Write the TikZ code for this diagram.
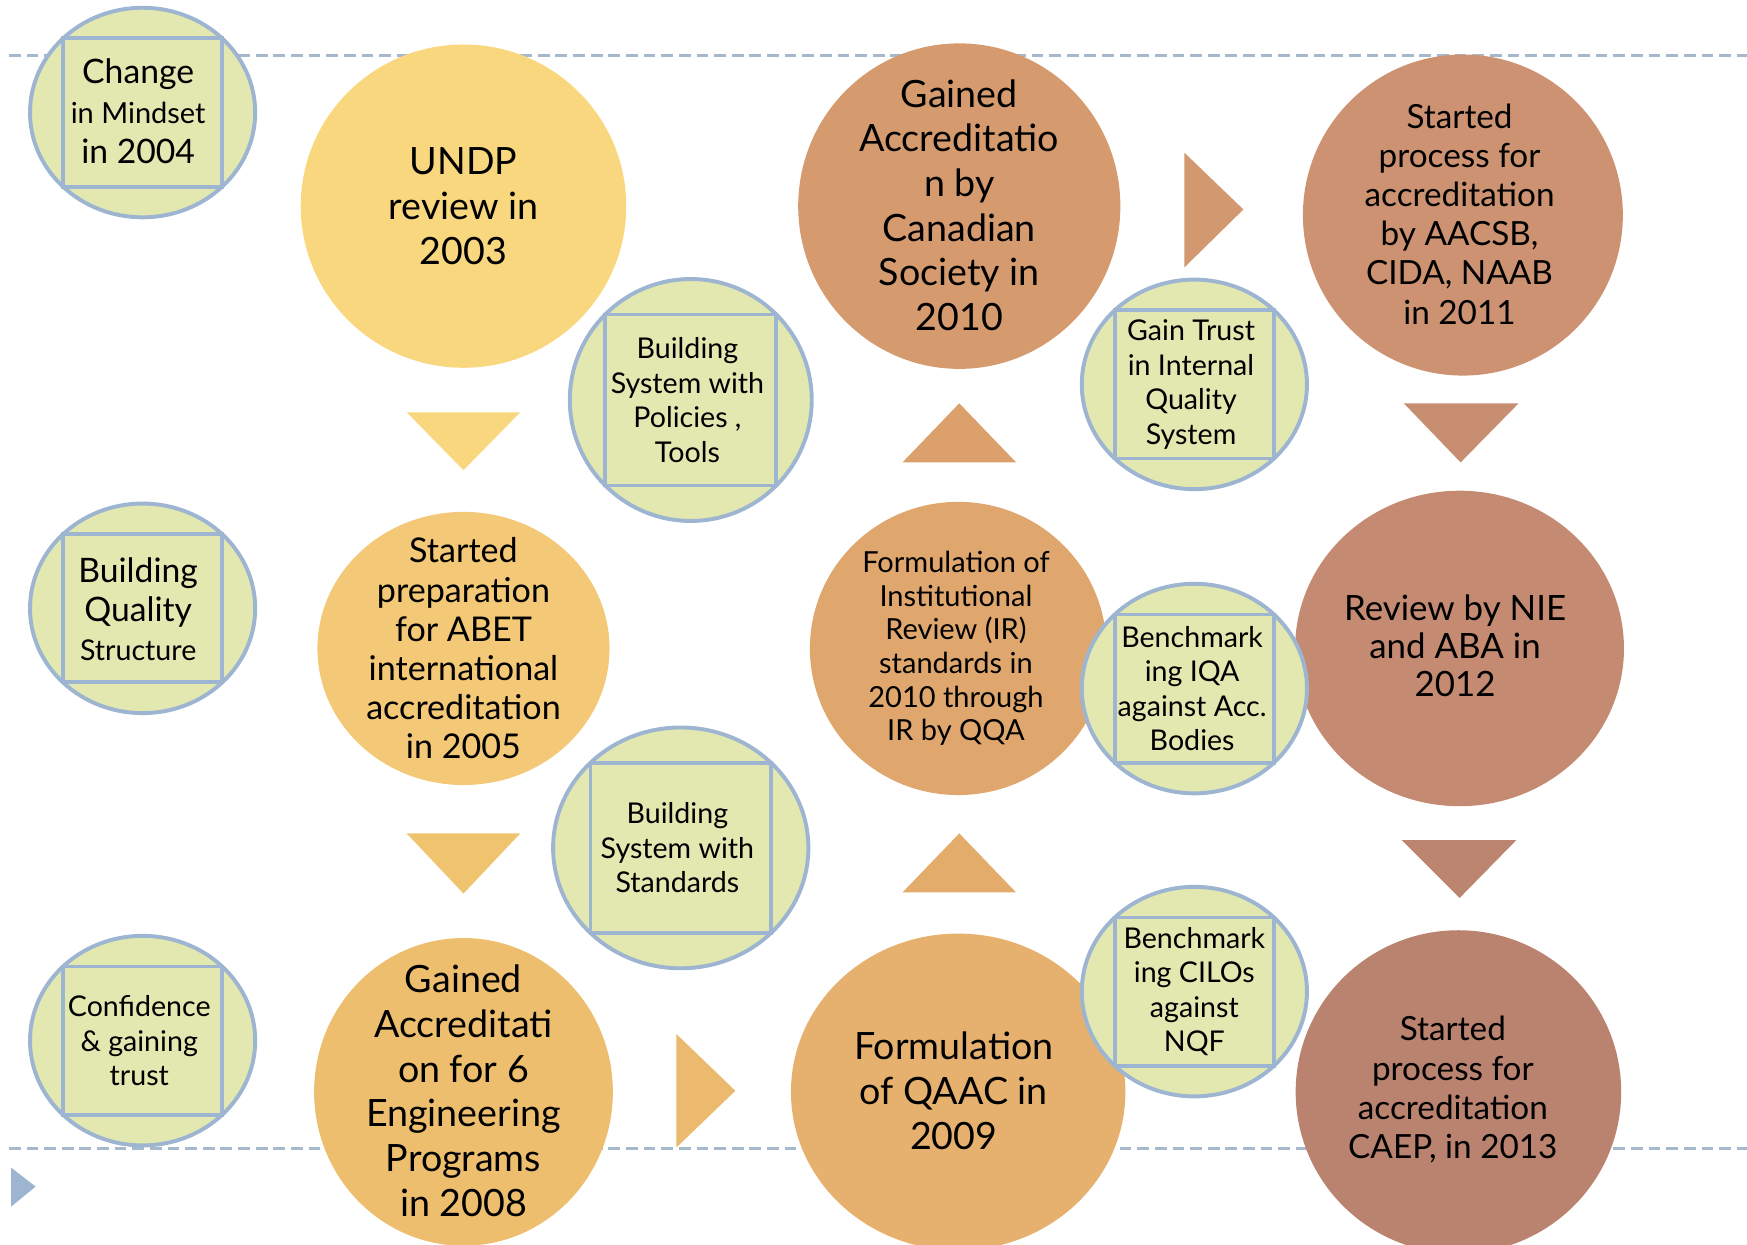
\documentclass[tikz,border=0pt]{standalone}
\usepackage{fontspec}
\setmainfont{Lato}
\usetikzlibrary{shapes.geometric}
\definecolor{cundp}{HTML}{F9D77E}
\definecolor{cabet}{HTML}{F3C877}
\definecolor{csix}{HTML}{EDBE6E}
\definecolor{cqaac}{HTML}{E6B16F}
\definecolor{cir}{HTML}{DFA76D}
\definecolor{ccan}{HTML}{D59B6F}
\definecolor{caacsb}{HTML}{CD9271}
\definecolor{cnie}{HTML}{C48B72}
\definecolor{ccaep}{HTML}{B9836F}
\definecolor{tabet}{HTML}{F0C46F}
\definecolor{tsix}{HTML}{EBBA6E}
\definecolor{tqaac}{HTML}{E3AC6B}
\definecolor{tir}{HTML}{DBA06C}
\definecolor{tcan}{HTML}{D29870}
\definecolor{taacsb}{HTML}{C88E71}
\definecolor{tnie}{HTML}{BC8570}
\definecolor{gfill}{HTML}{E2E8B0}
\definecolor{gblue}{HTML}{9DB5D0}
\definecolor{dblue}{HTML}{A5B8CC}
\newcommand\fsz[2]{\fontsize{#1}{#2}\selectfont}
\begin{document}
\begin{tikzpicture}[x=0.01cm,y=-0.01cm,
  bigc/.style={ellipse, inner sep=0pt, outer sep=0pt, draw=none},
  gc/.style={ellipse, inner sep=0pt, outer sep=0pt, fill=gfill, draw=gblue, line width=1pt, minimum width=2.02cm, minimum height=1.88cm},
  inbox/.style={draw=gblue, line width=1pt},
  txt/.style={align=center, inner sep=0pt, text=black},
  bigtxt/.style={txt, font=\fsz{9.6pt}{11.4pt}},
  midtxt/.style={txt, font=\fsz{8.5pt}{10pt}},
  smtxt/.style={txt, font=\fsz{7.3pt}{8.8pt}},
  dline/.style={draw=dblue, line width=0.7pt, dash pattern=on 3pt off 1.5pt}
]
\path[use as bounding box] (0,0) rectangle (1568,1117);
\begin{scope}
\clip (0,0) rectangle (1568,1117);
% dashed guide lines
\coordinate (t1) at (8,50); \coordinate (t2) at (1568,50);
\coordinate (b1) at (8,1031); \coordinate (b2) at (1568,1031);
\draw[dline] (t1) -- (t2);
\draw[dline] (b1) -- (b2);
\fill[gblue] (10,1048) -- (32,1065) -- (10,1083) -- cycle;

% big circles
\node[bigc, fill=cundp, minimum width=2.92cm, minimum height=2.90cm] (undp) at (416,185) {};
\node[bigtxt] (undpT) at (undp) {UNDP\\review in\\2003};
\node[bigc, fill=cabet, minimum width=2.62cm, minimum height=2.45cm] (abet) at (416,582) {};
\node[txt, font=\fsz{8.7pt}{10pt}] (abetT) at (abet) {Started\\preparation\\for ABET\\international\\accreditation\\in 2005};
\node[bigc, fill=csix, minimum width=2.68cm, minimum height=2.76cm] (six) at (416,980) {};
\node[bigtxt] (sixT) at (416,979) {Gained\\Accreditati\\on for 6\\Engineering\\Programs\\in 2008};

\node[bigc, fill=ccan, minimum width=2.89cm, minimum height=2.92cm] (can) at (861,185) {};
\node[bigtxt] (canT) at (861,184) {Gained\\Accreditatio\\n by\\Canadian\\Society in\\2010};
\node[bigc, fill=cir, minimum width=2.66cm, minimum height=2.63cm] (ir) at (860,582) {};
\node[txt, font=\fsz{7.4pt}{8.6pt}] (irT) at (858,582) {Formulation of\\Institutional\\Review (IR)\\standards in\\2010 through\\IR by QQA};
\node[bigc, fill=cqaac, minimum width=3.00cm, minimum height=2.84cm] (qaac) at (860,980) {};
\node[bigtxt] (qaacT) at (856,979) {Formulation\\of QAAC in\\2009};

\node[bigc, fill=caacsb, minimum width=2.87cm, minimum height=2.88cm] (aacsb) at (1313,193) {};
\node[midtxt] (aacsbT) at (1310,192) {Started\\process for\\accreditation\\by AACSB,\\CIDA, NAAB\\in 2011};
\node[bigc, fill=cnie, minimum width=2.95cm, minimum height=2.83cm] (nie) at (1310,582) {};
\node[txt, font=\fsz{8.9pt}{9.7pt}] (nieT) at (1306,580) {Review by NIE\\and ABA in\\2012};
\node[bigc, fill=ccaep, minimum width=2.92cm, minimum height=2.90cm] (caep) at (1309,980) {};
\node[midtxt] (caepT) at (1304,978) {Started\\process for\\accreditation\\CAEP, in 2013};

% triangle arrows
\fill[cundp] (365,370) -- (467,370) -- (416,422) -- cycle;
\fill[tabet] (365,748) -- (467,748) -- (416,802) -- cycle;
\fill[tsix] (607,928) -- (660,979) -- (607,1030) -- cycle;
\fill[tqaac] (810,801) -- (912,801) -- (861,748) -- cycle;
\fill[tir] (810,415) -- (912,415) -- (861,362) -- cycle;
\fill[tcan] (1063,137) -- (1116,188) -- (1063,240) -- cycle;
\fill[taacsb] (1260,362) -- (1363,362) -- (1311,415) -- cycle;
\fill[tnie] (1258,754) -- (1361,754) -- (1310,806) -- cycle;

% small green circles with inscribed boxes
\node[gc] (g1) at (128,101) {};
\draw[inbox] (g1.north west) rectangle (g1.south east);
\node[txt, font=\fsz{8.6pt}{10.2pt}] (g1T) at (124,100) {Change\\\fsz{7.4pt}{10.2pt}in Mindset\\in 2004};

\node[gc] (g2) at (128,546) {};
\draw[inbox] (g2.north west) rectangle (g2.south east);
\node[txt, font=\fsz{8.6pt}{10pt}] (g2T) at (124,547) {Building\\Quality\\\fsz{7.3pt}{10pt}Structure};

\node[gc] (g3) at (128,934) {};
\draw[inbox] (g3.north west) rectangle (g3.south east);
\node[smtxt] (g3T) at (125,934) {Confidence\\\&~gaining\\trust};

\node[gc, minimum width=2.17cm, minimum height=2.17cm] (g4) at (620,359) {};
\draw[inbox] (g4.north west) rectangle (g4.south east);
\node[smtxt] (g4T) at (617,359) {Building\\System with\\Policies ,\\Tools};

\node[gc, minimum width=2.29cm, minimum height=2.16cm] (g5) at (611,761) {};
\draw[inbox] (g5.north west) rectangle (g5.south east);
\node[smtxt] (g5T) at (608,761) {Building\\System with\\Standards};

\node[gc] (g6) at (1072,345) {};
\draw[inbox] (g6.north west) rectangle (g6.south east);
\node[smtxt] (g6T) at (1069,345) {Gain Trust\\in Internal\\Quality\\System};

\node[gc] (g7) at (1072,618) {};
\draw[inbox] (g7.north west) rectangle (g7.south east);
\node[smtxt] (g7T) at (1070,618) {Benchmark\\ing IQA\\against Acc.\\Bodies};

\node[gc] (g8) at (1072,890) {};
\draw[inbox] (g8.north west) rectangle (g8.south east);
\node[smtxt] (g8T) at (1072,890) {Benchmark\\ing CILOs\\against\\NQF};
\end{scope}
\end{tikzpicture}
\end{document}
